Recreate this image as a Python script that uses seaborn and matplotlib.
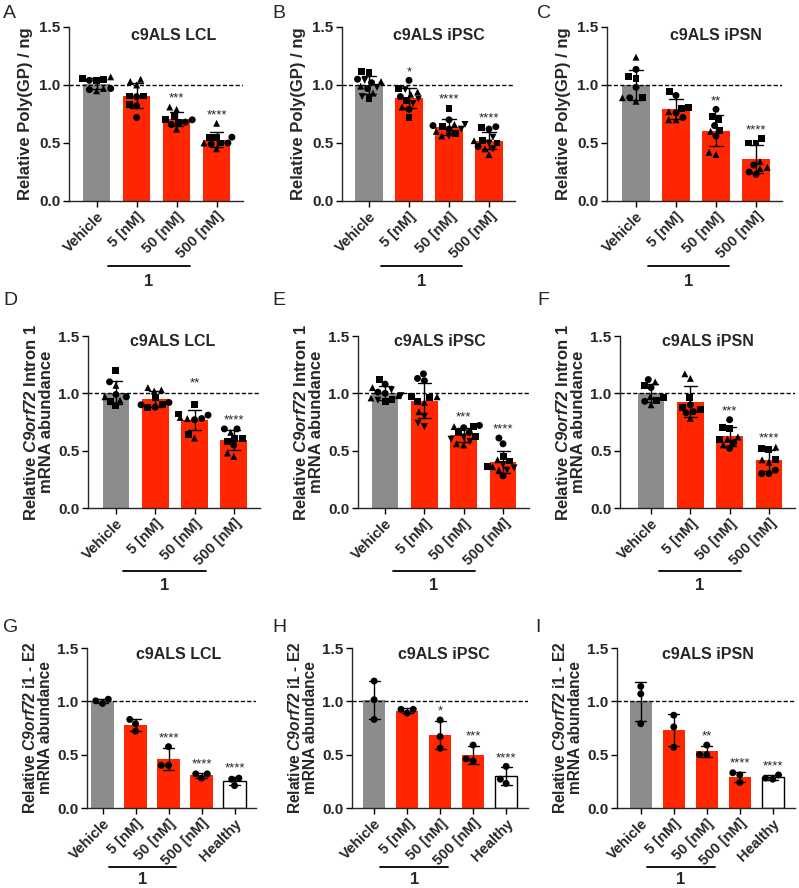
import warnings
import numpy as np
import pandas as pd
import seaborn as sns
import matplotlib.pyplot as plt
from matplotlib.markers import MarkerStyle
from matplotlib.transforms import blended_transform_factory

warnings.filterwarnings("ignore")

# ---------------- data ----------------
groups4 = ["Vehicle", "5 [nM]", "50 [nM]", "500 [nM]"]
groups5 = groups4 + ["Healthy"]

# marker order inside every group: 3 circles, 3 squares, 3 triangles (3 down-triangles)
mk9 = ["o"] * 3 + ["s"] * 3 + ["^"] * 3
mk12 = mk9 + ["v"] * 3
mk3 = ["o"] * 3

A_vals = [[1.04, 0.97, 0.96, 1.05, 1.06, 1.04, 1.07, 0.97, 0.95],
          [0.90, 0.82, 0.72, 0.905, 0.905, 0.83, 1.03, 1.05, 1.00],
          [0.70, 0.68, 0.66, 0.73, 0.70, 0.68, 0.81, 0.79, 0.62],
          [0.55, 0.50, 0.49, 0.55, 0.55, 0.50, 0.67, 0.45, 0.50]]
B_vals = [[1.05, 1.02, 0.97, 1.12, 1.11, 0.88, 1.03, 0.99, 0.93, 1.04, 0.98, 0.90],
          [1.04, 0.90, 0.79, 0.97, 0.87, 0.72, 0.94, 0.92, 0.81, 0.96, 0.88, 0.84],
          [0.70, 0.65, 0.62, 0.80, 0.64, 0.58, 0.66, 0.60, 0.56, 0.66, 0.62, 0.56],
          [0.64, 0.62, 0.47, 0.63, 0.52, 0.50, 0.45, 0.40, 0.52, 0.55, 0.50, 0.45]]
C_vals = [[1.135, 0.98, 0.89, 1.07, 1.055, 0.89, 1.24, 0.86, 0.89],
          [0.91, 0.76, 0.72, 0.94, 0.81, 0.80, 0.77, 0.70, 0.70],
          [0.79, 0.65, 0.56, 0.73, 0.70, 0.61, 0.60, 0.40, 0.42],
          [0.31, 0.25, 0.23, 0.54, 0.50, 0.50, 0.34, 0.29, 0.28]]
D_vals = [[1.10, 0.99, 0.97, 1.20, 0.89, 0.93, 1.07, 0.97, 0.94],
          [0.92, 0.90, 0.88, 0.96, 0.90, 0.88, 1.05, 1.03, 1.02],
          [0.81, 0.78, 0.77, 0.90, 0.82, 0.64, 0.79, 0.78, 0.61],
          [0.69, 0.69, 0.55, 0.61, 0.61, 0.58, 0.66, 0.48, 0.45]]
E_vals = [[1.08, 1.01, 1.00, 1.12, 0.95, 0.93, 1.05, 0.98, 0.96, 1.03, 0.98, 0.94],
          [1.17, 1.13, 1.11, 0.97, 0.96, 0.93, 0.97, 0.92, 0.84, 0.80, 0.74, 0.71],
          [0.72, 0.70, 0.66, 0.71, 0.66, 0.62, 0.71, 0.56, 0.55, 0.62, 0.60, 0.58],
          [0.61, 0.56, 0.28, 0.45, 0.41, 0.36, 0.42, 0.36, 0.33, 0.38, 0.35, 0.33]]
F_vals = [[1.12, 1.05, 0.93, 1.07, 0.96, 0.94, 1.10, 0.97, 0.90],
          [0.90, 0.83, 0.84, 0.96, 0.88, 0.86, 1.17, 1.13, 0.78],
          [0.77, 0.57, 0.52, 0.70, 0.69, 0.60, 0.62, 0.60, 0.55],
          [0.30, 0.30, 0.33, 0.52, 0.51, 0.42, 0.53, 0.42, 0.40]]
G_vals = [[0.98, 1.02, 1.005], [0.83, 0.79, 0.72], [0.575, 0.40, 0.40],
          [0.28, 0.32, 0.32], [0.28, 0.27, 0.21]]
H_vals = [[1.19, 1.015, 0.83], [0.89, 0.925, 0.925], [0.825, 0.67, 0.56],
          [0.59, 0.44, 0.46], [0.39, 0.27, 0.23]]
I_vals = [[1.14, 1.07, 0.79], [0.87, 0.76, 0.57], [0.59, 0.50, 0.50],
          [0.33, 0.31, 0.24], [0.31, 0.28, 0.27]]

A_stars = ["", "", "***", "****"]
B_stars = ["", "*", "****", "****"]
C_stars = ["", "", "**", "****"]
D_stars = ["", "", "**", "****"]
E_stars = ["", "", "***", "****"]
F_stars = ["", "", "***", "****"]
G_stars = ["", "", "****", "****", "****"]
H_stars = ["", "", "*", "***", "****"]
I_stars = ["", "", "**", "****", "****"]

titles = ["c9ALS LCL", "c9ALS iPSC", "c9ALS iPSN"]
ylabels = ["Relative Poly(GP) / ng",
           "Relative $\\mathit{C9orf72}$ Intron 1\nmRNA abundance",
           "Relative $\\mathit{C9orf72}$ i1 - E2\nmRNA abundance"]
yticks = [0, 0.5, 1.0, 1.5]
ytick_labels = ["0.0", "0.5", "1.0", "1.5"]

palette = {"Vehicle": "#8c8c8c", "5 [nM]": "#ff2600", "50 [nM]": "#ff2600",
           "500 [nM]": "#ff2600", "Healthy": "#ffffff"}

# ---------------- style ----------------
sns.set_style("ticks")
plt.rcParams["font.family"] = ["Liberation Sans", "DejaVu Sans"]
plt.rcParams["mathtext.fontset"] = "custom"
plt.rcParams["mathtext.it"] = "Liberation Sans:italic:bold"
plt.rcParams["mathtext.rm"] = "Liberation Sans:italic:bold"
plt.rcParams["axes.linewidth"] = 1.0

W, H = 799, 888
fig = plt.figure(figsize=(W / 100, H / 100), dpi=100)


def make_df(groups, vals, mk):
    rows = []
    for g, vs in zip(groups, vals):
        for v, m in zip(vs, mk):
            rows.append((g, v, m))
    return pd.DataFrame(rows, columns=["group", "value", "marker"])


# layout per row (pixels): axis top/bottom, bar spacing, right margin (in bar units),
# y-label offset, underline x-range, underline / "1" distances below the axis
rows_layout = [
    dict(top=27, bot=201, sp=40.0, rm=0.66, lab=-36, ul=(0.29, 2.33), ly=65, ty=85, fs=12),
    dict(top=336, bot=508, sp=39.3, rm=0.66, lab=-34, ul=(0.19, 2.29), ly=63, ty=82, fs=12),
    dict(top=648, bot=808, sp=33.0, rm=0.66, lab=-34, ul=(0.19, 2.24), ly=59, ty=76, fs=11.2),
]
panel_left = [[69, 342, 607], [88, 358, 620], [87, 352, 617]]
left_margin = [[0.69, 0.675, 0.725], [0.71, 0.69, 0.79], [0.47, 0.67, 0.72]]
title_x = [[0.60, 0.56, 0.62], [0.49, 0.48, 0.50], [0.54, 0.52, 0.51]]
title_y = [0.954, 0.97, 0.96]
letter_x = [[3, 272, 537], [3, 272, 537], [3, 272, 535]]
letter_base = [18, 305, 632]
star_floor = {"D": 1.03}

panels = [
    ("A", A_vals, groups4, mk9, A_stars), ("B", B_vals, groups4, mk12, B_stars),
    ("C", C_vals, groups4, mk9, C_stars), ("D", D_vals, groups4, mk9, D_stars),
    ("E", E_vals, groups4, mk12, E_stars), ("F", F_vals, groups4, mk9, F_stars),
    ("G", G_vals, groups5, mk3, G_stars), ("H", H_vals, groups5, mk3, H_stars),
    ("I", I_vals, groups5, mk3, I_stars),
]

for k, (letter, vals, groups, mk, stars) in enumerate(panels):
    r, c = divmod(k, 3)
    L = rows_layout[r]
    hpx = L["bot"] - L["top"]
    left = panel_left[r][c]
    xlim = (-left_margin[r][c], len(groups) - 1 + L["rm"])
    wpx = (xlim[1] - xlim[0]) * L["sp"]
    ax = fig.add_axes([left / W, 1 - L["bot"] / H, wpx / W, hpx / H])
    df = make_df(groups, vals, mk)

    sns.barplot(data=df, x="group", y="value", hue="group", order=groups,
                hue_order=groups, palette=palette, legend=False, errorbar="sd",
                capsize=0.33, width=0.68, linewidth=0, saturation=1,
                err_kws={"color": "k", "linewidth": 1.0}, ax=ax)
    for p in ax.patches:
        if tuple(p.get_facecolor()[:3]) == (1.0, 1.0, 1.0):
            p.set_edgecolor("k")
            p.set_linewidth(1.0)

    n0 = len(ax.collections)
    sns.swarmplot(data=df, x="group", y="value", order=groups, color="k",
                  size=5, linewidth=0, zorder=3, ax=ax)
    for coll in ax.collections[n0:]:
        offs = coll.get_offsets()
        if len(offs) == 0:
            continue
        g = groups[int(round(offs[0, 0]))]
        paths = []
        for m in df.loc[df.group == g, "marker"]:
            ms = MarkerStyle(m)
            paths.append(ms.get_path().transformed(ms.get_transform()))
        coll.set_paths(paths)

    ax.axhline(1.0, color="k", lw=1.0, ls=(0, (3, 1.6)), zorder=2.5)

    ax.set_xlim(*xlim)
    ax.set_ylim(0, 1.5)
    ax.set_yticks(yticks)
    ax.set_yticklabels(ytick_labels, fontsize=11, fontweight="bold")
    ax.set_xticks(range(len(groups)))
    ax.set_xticklabels(groups, rotation=45, ha="right", rotation_mode="anchor",
                       fontsize=10.5, fontweight="bold")
    ax.tick_params(axis="both", direction="out", length=4, width=1, pad=2, color="k")
    ax.set_xlabel("")
    ax.set_ylabel(ylabels[r], fontsize=L["fs"], fontweight="bold", linespacing=1.0)
    ax.yaxis.set_label_coords(L["lab"] / wpx, 0.5)
    sns.despine(ax=ax)

    ax.text(title_x[r][c], title_y[r], titles[c], transform=ax.transAxes,
            ha="center", va="center", fontsize=11.5, fontweight="bold")

    for i, g in enumerate(groups):
        if not stars[i]:
            continue
        v = df.loc[df.group == g, "value"]
        top = max(v.max(), v.mean() + v.std()) + 0.02
        if stars[i] == "**" and letter in star_floor:
            top = max(top, star_floor[letter])
        ax.text(i, top, stars[i], ha="center", va="bottom", fontsize=9.5)

    trans = blended_transform_factory(ax.transData, ax.transAxes)
    x0, x1 = L["ul"]
    ax.plot([x0, x1], [-L["ly"] / hpx] * 2, transform=trans, color="k",
            lw=1.3, clip_on=False)
    ax.text((x0 + x1) / 2, -L["ty"] / hpx, "1", transform=trans, ha="center",
            va="baseline", fontsize=12, fontweight="bold")

    fig.text(letter_x[r][c] / W, 1 - letter_base[r] / H, letter, fontsize=14,
             ha="left", va="baseline")

fig.savefig("out.png", dpi=100)
